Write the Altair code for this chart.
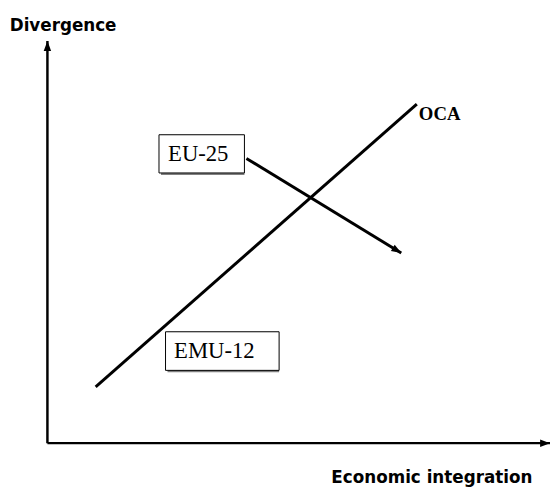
import altair as alt
import pandas as pd

# Conceptual coordinates (economic integration on x, divergence on y), 0..10
axis_x0 = [0, 0]
axis_y0 = [0, 0]
axis_x1 = [0, 10]
axis_y1 = [10, 0]

oca_x = [0.96, 7.35]
oca_y = [1.40, 8.43]

eu_path_x = [3.96, 7.04]
eu_path_y = [7.08, 4.73]

box_labels = ["EU-25", "EMU-12"]
box_x1 = [2.22, 2.35]
box_x2 = [3.92, 4.61]
box_y1 = [6.72, 1.81]
box_y2 = [7.67, 2.77]
box_text_x = [2.40, 2.52]
box_text_y = [7.19, 2.29]

arrow_tip_x = [0, 10, 7.04]
arrow_tip_y = [10, 0, 4.73]
arrow_angle = [270, 0, 31]

oca_label = "OCA"
oca_label_x = 7.39
oca_label_y = 8.19

ytitle = "Divergence"
ytitle_pos = (-0.75, 10.37)
xtitle = "Economic integration"
xtitle_pos = (9.65, -0.88)

X = alt.Scale(domain=[0, 10], nice=False, zero=False)
Y = alt.Scale(domain=[0, 10], nice=False, zero=False)
XE = lambda f: alt.X(f, scale=X, axis=None)
YE = lambda f: alt.Y(f, scale=Y, axis=None)

axes_df = pd.DataFrame({"x": axis_x0, "y": axis_y0, "x2": axis_x1, "y2": axis_y1})
axes = alt.Chart(axes_df).mark_rule(color="black", strokeWidth=2.5).encode(
    x=XE("x:Q"), y=YE("y:Q"), x2="x2:Q", y2="y2:Q",
)

heads_df = pd.DataFrame({"x": arrow_tip_x, "y": arrow_tip_y, "a": arrow_angle})
heads = alt.Chart(heads_df).mark_point(
    shape="M0,0L-1,-0.38L-1,0.38Z", filled=True, color="black", opacity=1, size=400, strokeWidth=0
).encode(x=XE("x:Q"), y=YE("y:Q"), angle=alt.Angle("a:Q", scale=None))

oca_df = pd.DataFrame({"x": oca_x, "y": oca_y})
oca = alt.Chart(oca_df).mark_line(color="black", strokeWidth=3).encode(x=XE("x:Q"), y=YE("y:Q"))

eu_df = pd.DataFrame({"x": eu_path_x, "y": eu_path_y})
eu_line = alt.Chart(eu_df).mark_line(color="black", strokeWidth=3).encode(x=XE("x:Q"), y=YE("y:Q"))

box_df = pd.DataFrame({
    "label": box_labels, "x1": box_x1, "x2": box_x2, "y1": box_y1, "y2": box_y2,
    "tx": box_text_x, "ty": box_text_y,
})
shadow = alt.Chart(box_df).mark_rect(color="#808080", xOffset=2, yOffset=2).encode(
    x=XE("x1:Q"), x2="x2:Q", y=YE("y1:Q"), y2="y2:Q",
)
boxes = alt.Chart(box_df).mark_rect(fill="white", stroke="black", strokeWidth=1).encode(
    x=XE("x1:Q"), x2="x2:Q", y=YE("y1:Q"), y2="y2:Q",
)
box_text = alt.Chart(box_df).mark_text(
    align="left", baseline="middle", font="Times New Roman, Liberation Serif, serif",
    fontSize=23, color="black"
).encode(x=XE("tx:Q"), y=YE("ty:Q"), text="label:N")

oca_df2 = pd.DataFrame({"x": [oca_label_x], "y": [oca_label_y], "t": [oca_label]})
oca_text = alt.Chart(oca_df2).mark_text(
    align="left", baseline="middle", font="Times New Roman, Liberation Serif, serif",
    fontSize=19, fontWeight="bold", color="black"
).encode(x=XE("x:Q"), y=YE("y:Q"), text="t:N")

yt_df = pd.DataFrame({"x": [ytitle_pos[0]], "y": [ytitle_pos[1]], "t": [ytitle]})
yt = alt.Chart(yt_df).mark_text(
    align="left", baseline="middle", font="Comic Sans MS, DejaVu Sans, sans-serif",
    fontSize=17, fontWeight="bold", color="black"
).encode(x=XE("x:Q"), y=YE("y:Q"), text="t:N")

xt_df = pd.DataFrame({"x": [xtitle_pos[0]], "y": [xtitle_pos[1]], "t": [xtitle]})
xt = alt.Chart(xt_df).mark_text(
    align="right", baseline="middle", font="Comic Sans MS, DejaVu Sans, sans-serif",
    fontSize=17, fontWeight="bold", color="black"
).encode(x=XE("x:Q"), y=YE("y:Q"), text="t:N")

chart = alt.layer(
    axes, oca, eu_line, heads, shadow, boxes, box_text, oca_text, yt, xt
).properties(
    width=510, height=408,
    padding={"left": 40, "top": 30, "right": 0, "bottom": 45},
    autosize=alt.AutoSizeParams(type="none"),
).configure_view(strokeWidth=0, fill="white")

chart.save("out.html", embed_options={"renderer": "svg", "actions": False})
